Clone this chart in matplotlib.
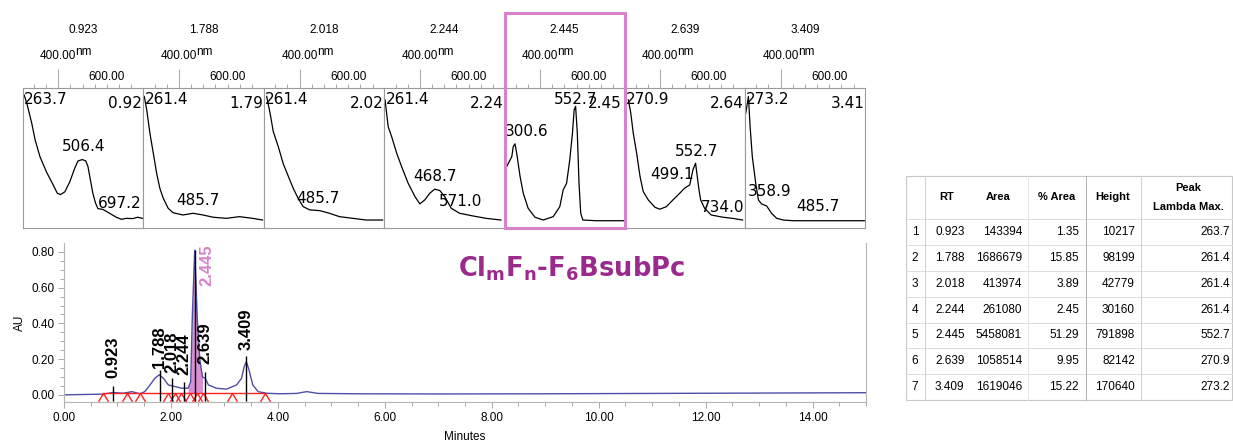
import numpy as np
import matplotlib
matplotlib.use("Agg")
import matplotlib.pyplot as plt
from matplotlib.path import Path
from matplotlib.patches import Rectangle

plt.rcParams['font.family'] = ['Liberation Sans', 'DejaVu Sans']

W, H = 1233, 445

# peak table
rt = [0.923, 1.788, 2.018, 2.244, 2.445, 2.639, 3.409]
rt_short = ['0.92', '1.79', '2.02', '2.24', '2.45', '2.64', '3.41']
area = [143394, 1686679, 413974, 261080, 5458081, 1058514, 1619046]
pct_area = [1.35, 15.85, 3.89, 2.45, 51.29, 9.95, 15.22]
height = [10217, 98199, 42779, 30160, 791898, 82142, 170640]
lambda_max = [263.7, 261.4, 261.4, 261.4, 552.7, 270.9, 273.2]

# chromatogram (minutes, AU)
time = [0.0, 0.73, 0.92, 1.11, 1.27, 1.42, 1.51, 1.61, 1.70, 1.78, 1.86, 1.95,
        2.07, 2.20, 2.32, 2.37, 2.40, 2.445, 2.49, 2.54, 2.59, 2.64, 2.70, 2.85,
        3.04, 3.23, 3.32, 3.37, 3.41, 3.46, 3.53, 3.63, 3.79, 4.04, 4.35, 4.54,
        4.75, 5.5, 7.0, 9.0, 11.0, 13.0, 15.0]
au = [0.0, 0.004, 0.013, 0.009, 0.018, 0.006, 0.018, 0.056, 0.093, 0.112, 0.093, 0.056,
      0.047, 0.037, 0.037, 0.074, 0.44, 0.81, 0.44, 0.195, 0.10, 0.093, 0.056, 0.037,
      0.032, 0.056, 0.093, 0.158, 0.186, 0.14, 0.056, 0.018, 0.009, 0.006, 0.008, 0.018,
      0.008, 0.006, 0.005, 0.006, 0.008, 0.010, 0.012]
drop_top = [0.05, 0.14, 0.095, 0.07, 0.81, 0.13, 0.22]
base_t = [0.73, 3.76]
base_au = [0.008, 0.008]
marks_t = [0.73, 1.18, 1.42, 1.94, 2.07, 2.18, 2.36, 2.48, 2.60, 3.14, 3.76]
fill_range = (2.32, 2.59)

# UV spectra at each peak (nm, normalised absorbance)
wl_1 = [260, 271, 291, 305, 325, 352, 379, 396, 409, 427, 447, 468, 481, 499, 513, 522,
        532, 542, 553, 563, 583, 611, 638, 659, 679, 706, 726, 746]
ab_1 = [0.95, 0.89, 0.75, 0.63, 0.51, 0.40, 0.31, 0.25, 0.24, 0.26, 0.33, 0.43, 0.48, 0.49,
        0.48, 0.44, 0.345, 0.25, 0.18, 0.14, 0.135, 0.107, 0.079, 0.064, 0.071, 0.069, 0.079, 0.071]
wl_2 = [258, 268, 281, 295, 309, 322, 336, 356, 376, 417, 458, 499, 540, 595, 649, 703, 744]
ab_2 = [0.94, 0.845, 0.68, 0.535, 0.39, 0.285, 0.214, 0.143, 0.111, 0.095, 0.107, 0.095,
        0.079, 0.071, 0.083, 0.071, 0.059]
wl_3 = [265, 279, 292, 313, 333, 354, 374, 394, 415, 442, 483, 523, 564, 619, 673, 741]
ab_3 = [0.94, 0.82, 0.69, 0.58, 0.46, 0.37, 0.285, 0.214, 0.154, 0.131, 0.126, 0.107,
        0.083, 0.071, 0.059, 0.059]
wl_4 = [257, 270, 284, 305, 325, 352, 380, 400, 420, 441, 461, 482, 502, 529, 563, 618, 672, 733]
ab_4 = [0.916, 0.724, 0.654, 0.535, 0.44, 0.321, 0.226, 0.174, 0.202, 0.25, 0.279, 0.269,
        0.226, 0.143, 0.107, 0.088, 0.071, 0.059]
wl_5 = [256, 270, 284, 290, 297, 304, 318, 331, 351, 379, 413, 454, 481, 495, 509, 522,
        533, 540, 546, 553, 560, 567, 576, 631, 746]
ab_5 = [0.416, 0.464, 0.511, 0.583, 0.602, 0.536, 0.369, 0.25, 0.143, 0.079, 0.059, 0.083,
        0.154, 0.274, 0.321, 0.488, 0.679, 0.845, 0.869, 0.679, 0.321, 0.107, 0.059, 0.054, 0.054]
wl_6 = [269, 279, 289, 303, 317, 330, 351, 378, 398, 425, 452, 480, 500, 521, 534, 545,
        552, 559, 566, 582, 609, 657, 697, 738]
ab_6 = [0.916, 0.821, 0.679, 0.536, 0.369, 0.262, 0.202, 0.15, 0.136, 0.154, 0.202, 0.25,
        0.286, 0.309, 0.416, 0.464, 0.369, 0.274, 0.202, 0.143, 0.095, 0.079, 0.071, 0.059]
wl_7 = [257, 268, 275, 284, 298, 309, 322, 343, 363, 384, 411, 452, 643, 746]
ab_7 = [0.821, 0.94, 0.724, 0.511, 0.321, 0.202, 0.174, 0.159, 0.107, 0.071, 0.059,
        0.054, 0.054, 0.054]
spectra = [(wl_1, ab_1), (wl_2, ab_2), (wl_3, ab_3), (wl_4, ab_4),
           (wl_5, ab_5), (wl_6, ab_6), (wl_7, ab_7)]
peak_text = [['506.4', '697.2'], ['485.7'], ['485.7'], ['468.7', '571.0'],
             ['300.6', '552.7'], ['552.7', '499.1', '734.0'], ['358.9', '485.7']]

# layout (pixels / axes fractions)
peak_pos = [[(0.51, 0.583), (0.806, 0.179)], [(0.455, 0.197)], [(0.451, 0.214)],
            [(0.42, 0.369), (0.63, 0.19)], [(0.187, 0.69), (0.594, 0.917)],
            [(0.601, 0.545), (0.393, 0.38), (0.81, 0.145)], [(0.208, 0.26), (0.607, 0.152)]]
panel_left = [22.7, 143.3, 264.0, 384.3, 504.5, 624.7, 745.0]
panel_w = 120.3
box_top, box_bot = 88.0, 228.3
label_x = [0.923, 1.788, 2.018, 2.244, 2.67, 2.639, 3.409]
label_y = [0.095, 0.15, 0.12, 0.11, 0.61, 0.17, 0.25]

GRAY = '#9a9a9a'
PINK = '#d783cb'


def fx(px):
    return px / W


def fy(py):
    return 1 - py / H


fig = plt.figure(figsize=(W / 100, H / 100), dpi=100)

# spectra panels
for i, (wl, ab) in enumerate(spectra):
    ax = fig.add_axes([fx(panel_left[i]), fy(box_bot), panel_w / W, (box_bot - box_top) / H])
    ax.plot(wl, ab, color='black', lw=0.9)
    ax.set_xlim(254, 748)
    ax.set_ylim(0, 1)
    ax.set_yticks([])
    ax.xaxis.tick_top()
    ax.set_xticks([400])
    ax.set_xticklabels([])
    ax.set_xticks([300, 350, 450, 500, 550, 600, 650, 700], minor=True)
    ax.tick_params(axis='x', which='major', length=14, width=0.6, color=GRAY)
    ax.tick_params(axis='x', which='minor', length=3, width=0.6, color=GRAY)
    for s in ax.spines.values():
        s.set_color(GRAY)
        s.set_linewidth(0.8)
    tr = ax.get_xaxis_transform()
    ax.text(400, 1.23, '400.00', transform=tr, ha='center', va='center', fontsize=8.5)
    ax.text(0.44, 1.255, 'nm', transform=ax.transAxes, ha='left', va='center', fontsize=8.5)
    ax.text(600, 1.08, '600.00', transform=tr, ha='center', va='center', fontsize=8.5)
    ax.text(0.5, 1.416, f'{rt[i]:.3f}', transform=ax.transAxes, ha='center', va='center',
            fontsize=8.5)
    # lambda max of the main peak is written at the spike itself in panel 5
    if i != 4:
        ax.text(0.01, 0.917, f'{lambda_max[i]:.1f}', transform=ax.transAxes, ha='left',
                va='center', fontsize=11, family='DejaVu Sans')
    rx = 0.977 if i == 4 else 0.993
    ax.text(rx, 0.89, rt_short[i], transform=ax.transAxes, ha='right', va='center',
            fontsize=11, family='DejaVu Sans')
    for txt, (px, py) in zip(peak_text[i], peak_pos[i]):
        ax.text(px, py, txt, transform=ax.transAxes, ha='center', va='center',
                fontsize=11, family='DejaVu Sans')

# chromatogram
ax = fig.add_axes([fx(64), fy(402), (866 - 64) / W, (402 - 243) / H])
t = np.array(time)
a = np.array(au)
ax.fill_between(t, a, base_au[0], where=(t >= fill_range[0]) & (t <= fill_range[1]),
                color='#d98fd2', lw=0)
ax.plot(t, a, color='#4d4fa6', lw=1)
ax.plot(base_t, base_au, color='#ff2020', lw=1)
vmark = Path([(-0.6, -1), (0, 0), (0.6, -1)], [Path.MOVETO, Path.LINETO, Path.LINETO])
ax.plot(marks_t, [base_au[0]] * len(marks_t), ls='none', marker=vmark, ms=12,
        mec='#ff2020', mfc='none', mew=1)
ax.vlines(rt, -0.037, drop_top, color='black', lw=1)
for i in range(len(rt)):
    ax.text(label_x[i], label_y[i], f'{rt[i]:.3f}', rotation=90, ha='center', va='bottom',
            fontsize=12, fontweight='bold', color=PINK if i == 4 else 'black')
ax.text(7.36, 0.665, r'Cl$_\mathregular{m}$F$_\mathregular{n}$-F$_\mathregular{6}$BsubPc',
        fontsize=18.5, family='DejaVu Sans', fontweight='bold', color='#9a2b8d',
        va='baseline')
ax.set_xlim(0, 15)
ax.set_ylim(-0.04, 0.85)
ax.set_xticks(np.arange(0, 15, 2))
ax.set_xticklabels([f'{v:.2f}' for v in np.arange(0, 15, 2)])
ax.set_xticks(np.arange(0, 15.01, 0.5), minor=True)
ax.set_yticks([0, 0.2, 0.4, 0.6, 0.8])
ax.set_yticklabels(['0.00', '0.20', '0.40', '0.60', '0.80'])
ax.set_yticks(np.arange(-0.0, 0.85, 0.05), minor=True)
ax.tick_params(which='major', length=4, width=0.6, color=GRAY, labelsize=8.5, pad=3)
ax.tick_params(which='minor', length=3, width=0.6, color=GRAY)
ax.spines['top'].set_visible(False)
for s in ['left', 'right', 'bottom']:
    ax.spines[s].set_color('#b5b5b5')
    ax.spines[s].set_linewidth(0.8)

# overlay in pixel coordinates: labels, highlight box, peak table
ov = fig.add_axes([0, 0, 1, 1])
ov.set_xlim(0, W)
ov.set_ylim(H, 0)
ov.axis('off')
ov.set_zorder(10)
ov.text(465, 437, 'Minutes', ha='center', va='center', fontsize=8.5)
ov.text(20, 323, 'AU', ha='center', va='center', rotation=90, fontsize=8.5)
ov.add_patch(Rectangle((504.5, 12.5), 120.2, box_bot - 12.5, fill=False, ec=PINK, lw=2.2))

tl, tr_, tt, tb = 906, 1232, 176, 400
hdr = 219.3
rh = (tb - hdr) / 7
ov.add_patch(Rectangle((tl, tt), tr_ - tl, tb - tt, fill=False, ec='#c8c8c8', lw=0.8))
for k in range(7):
    ov.plot([tl, tr_], [hdr + k * rh] * 2, color='#dcdcdc', lw=0.7)
for xv, c in [(925, '#d0d0d0'), (1028, '#e6e6e6'), (1086, '#b0b0b0'), (1141, '#d0d0d0')]:
    ov.plot([xv, xv], [tt, tb], color=c, lw=0.7)
hfs = 8
ov.text(947, 197, 'RT', ha='center', va='center', fontsize=hfs, fontweight='bold')
ov.text(998, 197, 'Area', ha='center', va='center', fontsize=hfs, fontweight='bold')
ov.text(1057, 197, '% Area', ha='center', va='center', fontsize=hfs, fontweight='bold')
ov.text(1113, 197, 'Height', ha='center', va='center', fontsize=hfs, fontweight='bold')
ov.text(1188, 188, 'Peak', ha='center', va='center', fontsize=hfs, fontweight='bold')
ov.text(1188, 207, 'Lambda Max.', ha='center', va='center', fontsize=hfs, fontweight='bold')
dfs = 8.5
for k in range(len(rt)):
    y = hdr + (k + 0.5) * rh
    ov.text(915, y, str(k + 1), ha='center', va='center', fontsize=dfs)
    ov.text(935, y, f'{rt[k]:.3f}', ha='left', va='center', fontsize=dfs)
    ov.text(1022, y, str(area[k]), ha='right', va='center', fontsize=dfs)
    ov.text(1079, y, f'{pct_area[k]:.2f}', ha='right', va='center', fontsize=dfs)
    ov.text(1135, y, str(height[k]), ha='right', va='center', fontsize=dfs)
    ov.text(1230, y, f'{lambda_max[k]:.1f}', ha='right', va='center', fontsize=dfs)

fig.savefig('out.png', dpi=100)
